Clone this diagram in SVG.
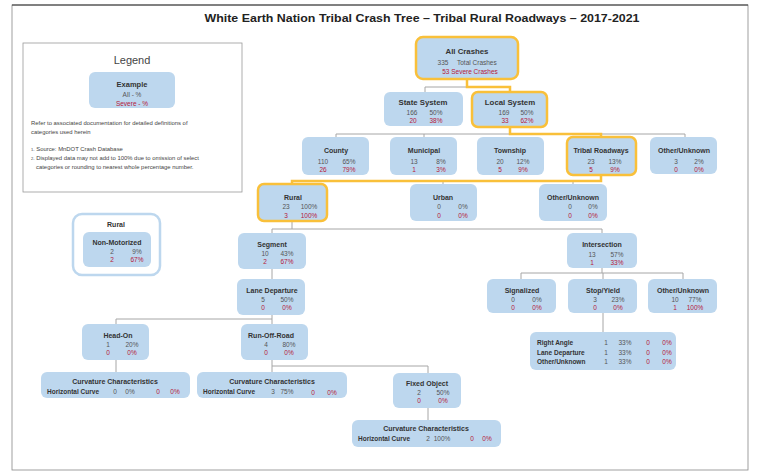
<svg xmlns="http://www.w3.org/2000/svg" width="758" height="475" viewBox="0 0 758 475">
<style>
.bg{fill:#ffffff}
.n{fill:#BDD7EE}
.hl{stroke:#F9C03A;stroke-width:2.5}
.t{font-family:"Liberation Sans",Arial,sans-serif;font-weight:bold;font-size:7px;fill:#333;text-anchor:middle}
.v{font-family:"Liberation Sans",Arial,sans-serif;font-size:6.5px;fill:#555;text-anchor:middle}
.s{text-anchor:start}
.r{fill:#B5173A}
.l{font-family:"Liberation Sans",Arial,sans-serif;font-size:6.5px;fill:#333;text-anchor:start;font-weight:bold}
.g{font-family:"Liberation Sans",Arial,sans-serif;font-size:5.9px;fill:#444}
.c{stroke:#A6A6A6;stroke-width:1;fill:none}
.y{stroke:#F9C03A;stroke-width:2.5;fill:none}
</style>
<rect class="bg" x="0" y="0" width="758" height="475"/>
<rect x="12" y="5" width="736" height="465" fill="none" stroke="#888" stroke-width="0.8"/>
<line x1="12" y1="5" x2="748" y2="5" stroke="#333" stroke-width="1"/>
<text x="422" y="22" font-family="'Liberation Sans',Arial,sans-serif" font-weight="bold" font-size="11.5" fill="#222" text-anchor="middle" textLength="435" lengthAdjust="spacingAndGlyphs">White Earth Nation Tribal Crash Tree – Tribal Rural Roadways – 2017-2021</text>

<g id="legend">
<rect x="23" y="43" width="219" height="149" fill="#fff" stroke="#999" stroke-width="0.8"/>
<text x="132" y="64" font-family="'Liberation Sans',Arial,sans-serif" font-size="11" fill="#444" text-anchor="middle">Legend</text>
<rect class="n" x="89" y="72" width="86" height="36" rx="6"/>
<text class="t" x="132" y="87" style="font-size:7.5px">Example</text>
<text class="v" x="132" y="97">All - %</text>
<text class="v r" x="132" y="106">Severe - %</text>
<text class="g" x="31" y="125">Refer to associated documentation for detailed definitions of</text>
<text class="g" x="31" y="134">categories used herein</text>
<text class="g" x="31" y="151"><tspan font-size="4">1-</tspan> Source: MnDOT Crash Database</text>
<text class="g" x="31" y="160"><tspan font-size="4">2-</tspan> Displayed data may not add to 100% due to omission of select</text>
<text class="g" x="36" y="169">categories or rounding to nearest whole percentage number.</text>
</g>

<g id="connectors">
<path class="c" d="M467 87 H425 V92"/>
<path class="c" d="M336 137 V134 H685 V137 M424 134 V137"/>
<path class="c" d="M292 181 H573 V184 M443 181 V184"/>
<path class="c" d="M292 221 V229 M272 233 V229 H602 V233"/>
<path class="c" d="M602 268 V273 M521 279 V273 H683 V279 M603 273 V279"/>
<path class="c" d="M603 313 V332"/>
<path class="c" d="M272 269 V279"/>
<path class="c" d="M272 315 V324 M272 319 H116 V324"/>
<path class="c" d="M116 360 V372"/>
<path class="c" d="M272 360 V372 M272 366 H428 V373"/>
<path class="c" d="M428 408 V420"/>
<path class="y" d="M467 79 V87 H510 V92"/>
<path class="y" d="M510 127 V134 H601 V137"/>
<path class="y" d="M601 175 V181 H292 V184"/>
</g>

<g id="all-crashes">
<rect class="n hl" x="416" y="37" width="102" height="42" rx="7"/>
<text class="t" x="467" y="54" style="font-size:7.8px">All Crashes</text>
<text class="v" x="443" y="65">335</text>
<text class="v s" x="457" y="65">Total Crashes</text>
<text class="v r" x="470" y="74">53 Severe Crashes</text>
</g>

<g id="state-system">
<rect class="n" x="384" y="92" width="79" height="34" rx="6"/>
<text class="t" x="423" y="105" style="font-size:7.8px">State System</text>
<text class="v" x="412" y="114.5">166</text><text class="v" x="436" y="114.5">50%</text>
<text class="v r" x="413" y="123">20</text><text class="v r" x="436" y="123">38%</text>
</g>

<g id="local-system">
<rect class="n hl" x="472" y="92" width="75" height="35" rx="6"/>
<text class="t" x="510" y="105" style="font-size:7.8px">Local System</text>
<text class="v" x="504" y="114.5">169</text><text class="v" x="527" y="114.5">50%</text>
<text class="v r" x="505" y="123">33</text><text class="v r" x="527" y="123">62%</text>
</g>

<g id="county">
<rect class="n" x="302" y="137" width="67" height="38" rx="6"/>
<text class="t" x="336" y="153">County</text>
<text class="v" x="323" y="163.5">110</text><text class="v" x="349" y="163.5">65%</text>
<text class="v r" x="323" y="172">26</text><text class="v r" x="349" y="172">79%</text>
</g>

<g id="municipal">
<rect class="n" x="390" y="137" width="67" height="38" rx="6"/>
<text class="t" x="424" y="153">Municipal</text>
<text class="v" x="414" y="163.5">13</text><text class="v" x="441" y="163.5">8%</text>
<text class="v r" x="414" y="172">1</text><text class="v r" x="441" y="172">3%</text>
</g>

<g id="township">
<rect class="n" x="477" y="137" width="67" height="38" rx="6"/>
<text class="t" x="510" y="153">Township</text>
<text class="v" x="500" y="163.5">20</text><text class="v" x="523" y="163.5">12%</text>
<text class="v r" x="500" y="172">5</text><text class="v r" x="523" y="172">9%</text>
</g>

<g id="tribal-roadways">
<rect class="n hl" x="567" y="137" width="69" height="38" rx="6"/>
<text class="t" x="601" y="153">Tribal Roadways</text>
<text class="v" x="591" y="163.5">23</text><text class="v" x="615" y="163.5">13%</text>
<text class="v r" x="591" y="172">5</text><text class="v r" x="615" y="172">9%</text>
</g>

<g id="other-unknown-1">
<rect class="n" x="650" y="137" width="67" height="37" rx="6"/>
<text class="t" x="684" y="153">Other/Unknown</text>
<text class="v" x="676" y="163.5">3</text><text class="v" x="699" y="163.5">2%</text>
<text class="v r" x="676" y="172">0</text><text class="v r" x="699" y="172">0%</text>
</g>

<g id="rural">
<rect class="n hl" x="258" y="184" width="69" height="37" rx="6"/>
<text class="t" x="293" y="200">Rural</text>
<text class="v" x="286" y="209">23</text><text class="v" x="309" y="209">100%</text>
<text class="v r" x="286" y="218">3</text><text class="v r" x="309" y="218">100%</text>
</g>

<g id="urban">
<rect class="n" x="410" y="184" width="67" height="37" rx="6"/>
<text class="t" x="443" y="200">Urban</text>
<text class="v" x="439" y="209">0</text><text class="v" x="463" y="209">0%</text>
<text class="v r" x="439" y="218">0</text><text class="v r" x="463" y="218">0%</text>
</g>

<g id="other-unknown-2">
<rect class="n" x="539" y="184" width="68" height="37" rx="6"/>
<text class="t" x="573" y="200">Other/Unknown</text>
<text class="v" x="570" y="209">0</text><text class="v" x="593" y="209">0%</text>
<text class="v r" x="570" y="218">0</text><text class="v r" x="593" y="218">0%</text>
</g>

<g id="rural-non-motorized">
<rect x="73" y="214" width="87" height="61" rx="9" fill="#fff" stroke="#BDD7EE" stroke-width="2.5"/>
<text class="t" x="116" y="227">Rural</text>
<rect class="n" x="83" y="232" width="68" height="35" rx="6"/>
<text class="t" x="117" y="245">Non-Motorized</text>
<text class="v" x="112" y="254">2</text><text class="v" x="137" y="254">9%</text>
<text class="v r" x="112" y="262">2</text><text class="v r" x="137" y="262">67%</text>
</g>

<g id="segment">
<rect class="n" x="238" y="233" width="68" height="36" rx="6"/>
<text class="t" x="272" y="247">Segment</text>
<text class="v" x="265" y="256">10</text><text class="v" x="287" y="256">43%</text>
<text class="v r" x="265" y="264">2</text><text class="v r" x="287" y="264">67%</text>
</g>

<g id="intersection">
<rect class="n" x="567" y="233" width="70" height="35" rx="6"/>
<text class="t" x="602" y="247">Intersection</text>
<text class="v" x="592" y="257">13</text><text class="v" x="617" y="257">57%</text>
<text class="v r" x="592" y="265">1</text><text class="v r" x="617" y="265">33%</text>
</g>

<g id="signalized">
<rect class="n" x="487" y="279" width="69" height="34" rx="6"/>
<text class="t" x="522" y="293">Signalized</text>
<text class="v" x="513" y="302">0</text><text class="v" x="537" y="302">0%</text>
<text class="v r" x="513" y="310">0</text><text class="v r" x="537" y="310">0%</text>
</g>

<g id="stop-yield">
<rect class="n" x="568" y="279" width="69" height="34" rx="6"/>
<text class="t" x="603" y="293">Stop/Yield</text>
<text class="v" x="595" y="302">3</text><text class="v" x="618" y="302">23%</text>
<text class="v r" x="595" y="310">0</text><text class="v r" x="618" y="310">0%</text>
</g>

<g id="other-unknown-3">
<rect class="n" x="648" y="279" width="69" height="34" rx="6"/>
<text class="t" x="683" y="293">Other/Unknown</text>
<text class="v" x="675" y="302">10</text><text class="v" x="695" y="302">77%</text>
<text class="v r" x="675" y="310">1</text><text class="v r" x="695" y="310">100%</text>
</g>

<g id="stop-yield-types">
<rect class="n" x="530" y="332" width="146" height="38" rx="6"/>
<text class="l" x="537" y="345">Right Angle</text>
<text class="l" x="537" y="354.5">Lane Departure</text>
<text class="l" x="537" y="364">Other/Unknown</text>
<text class="v" x="606" y="345">1</text><text class="v" x="625" y="345">33%</text><text class="v r" x="648" y="345">0</text><text class="v r" x="667" y="345">0%</text>
<text class="v" x="606" y="354.5">1</text><text class="v" x="625" y="354.5">33%</text><text class="v r" x="648" y="354.5">0</text><text class="v r" x="667" y="354.5">0%</text>
<text class="v" x="606" y="364">1</text><text class="v" x="625" y="364">33%</text><text class="v r" x="648" y="364">0</text><text class="v r" x="667" y="364">0%</text>
</g>

<g id="lane-departure">
<rect class="n" x="237" y="279" width="68" height="36" rx="6"/>
<text class="t" x="272" y="293">Lane Departure</text>
<text class="v" x="263" y="302">5</text><text class="v" x="287" y="302">50%</text>
<text class="v r" x="263" y="310">0</text><text class="v r" x="287" y="310">0%</text>
</g>

<g id="head-on">
<rect class="n" x="82" y="324" width="67" height="36" rx="6"/>
<text class="t" x="118" y="338">Head-On</text>
<text class="v" x="108" y="347">1</text><text class="v" x="132" y="347">20%</text>
<text class="v r" x="108" y="355">0</text><text class="v r" x="132" y="355">0%</text>
</g>

<g id="run-off-road">
<rect class="n" x="241" y="324" width="67" height="36" rx="6"/>
<text class="t" x="271" y="338">Run-Off-Road</text>
<text class="v" x="266" y="347">4</text><text class="v" x="289" y="347">80%</text>
<text class="v r" x="266" y="355">0</text><text class="v r" x="289" y="355">0%</text>
</g>

<g id="curvature-head-on">
<rect class="n" x="41" y="372" width="149" height="26" rx="6"/>
<text class="t" x="115" y="384">Curvature Characteristics</text>
<text class="l" x="47" y="393.5">Horizontal Curve</text>
<text class="v" x="115" y="393.5">0</text><text class="v" x="130" y="393.5">0%</text>
<text class="v r" x="158" y="393.5">0</text><text class="v r" x="175" y="393.5">0%</text>
</g>

<g id="curvature-run-off-road">
<rect class="n" x="197" y="372" width="150" height="26" rx="6"/>
<text class="t" x="272" y="384">Curvature Characteristics</text>
<text class="l" x="203" y="393.5">Horizontal Curve</text>
<text class="v" x="273" y="393.5">3</text><text class="v" x="287" y="393.5">75%</text>
<text class="v r" x="313" y="395">0</text><text class="v r" x="332" y="395">0%</text>
</g>

<g id="fixed-object">
<rect class="n" x="393" y="373" width="68" height="35" rx="6"/>
<text class="t" x="427" y="386">Fixed Object</text>
<text class="v" x="419" y="395">2</text><text class="v" x="443" y="395">50%</text>
<text class="v r" x="419" y="403">0</text><text class="v r" x="443" y="403">0%</text>
</g>

<g id="curvature-fixed-object">
<rect class="n" x="352" y="420" width="149" height="27" rx="6"/>
<text class="t" x="426" y="431">Curvature Characteristics</text>
<text class="l" x="358" y="441">Horizontal Curve</text>
<text class="v" x="428" y="441">2</text><text class="v" x="442" y="441">100%</text>
<text class="v r" x="472" y="441">0</text><text class="v r" x="487" y="441">0%</text>
</g>
</svg>
